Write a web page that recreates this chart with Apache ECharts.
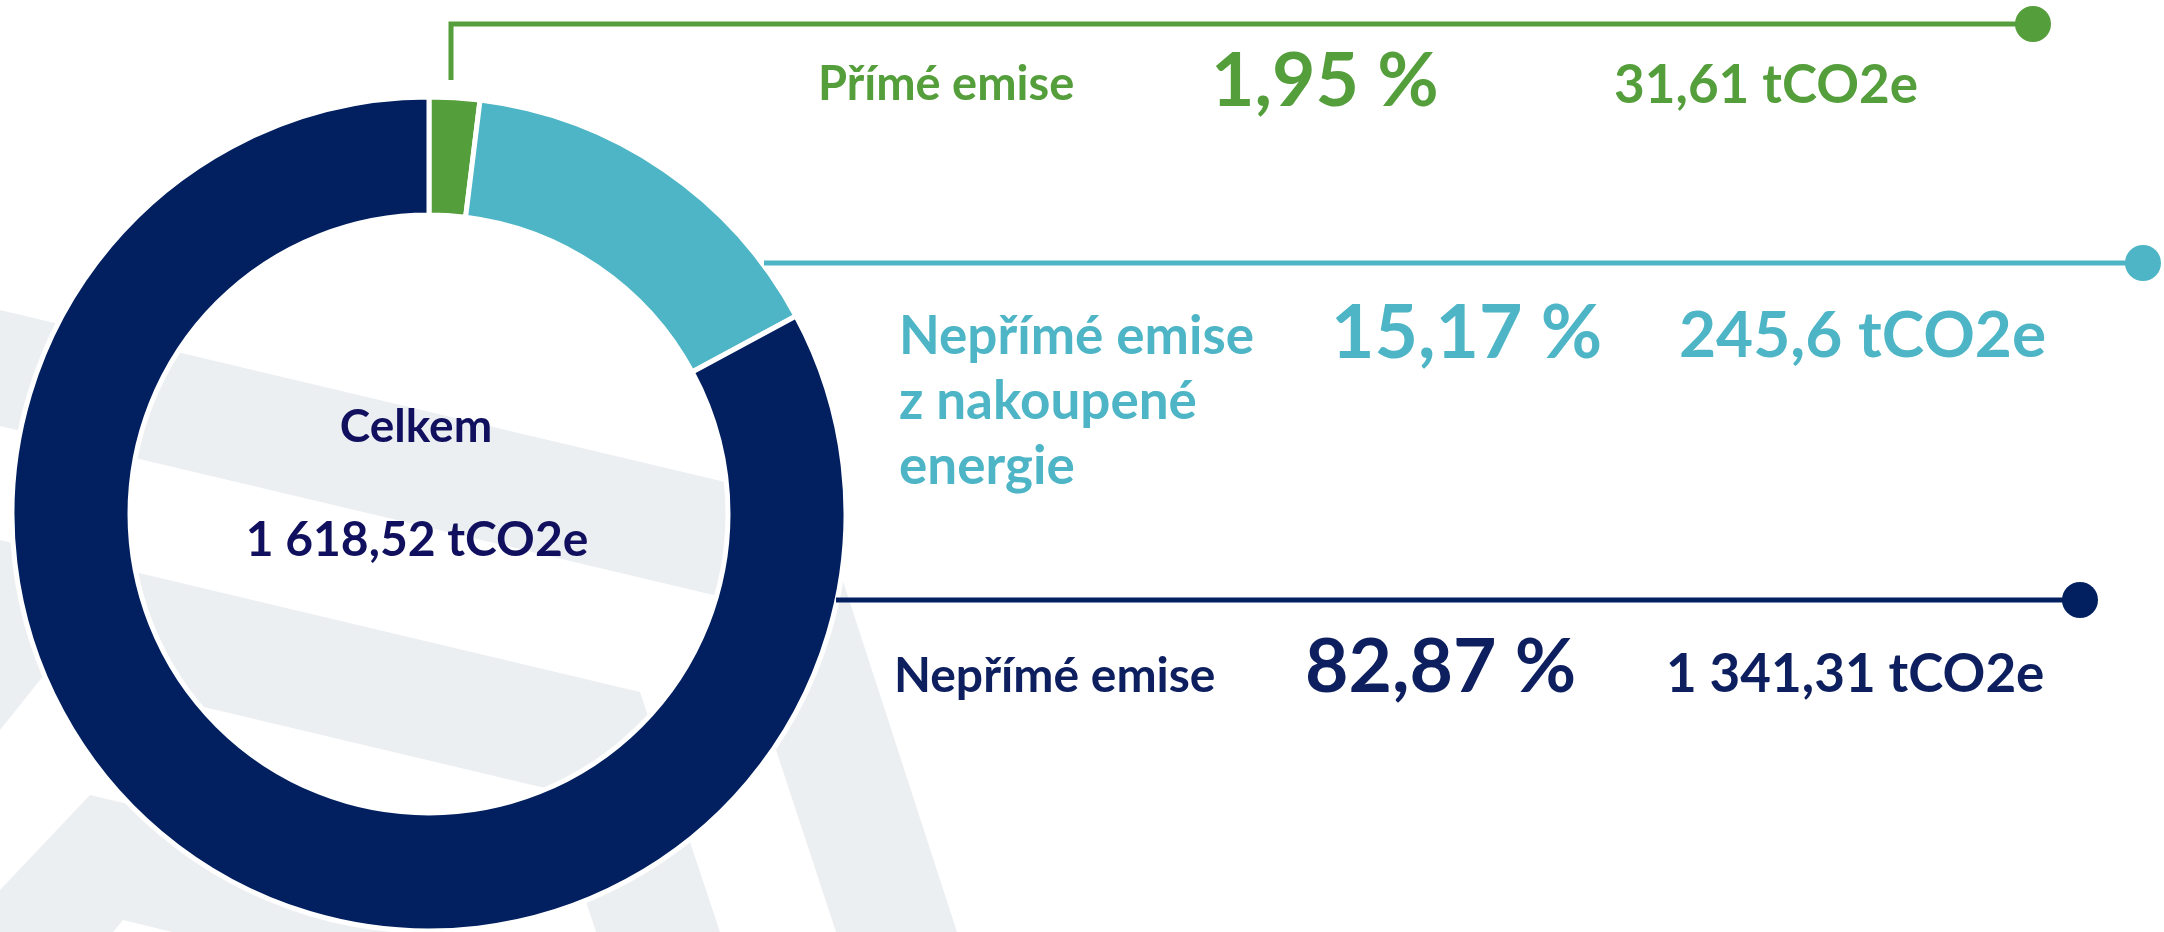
<!DOCTYPE html>
<html>
<head>
<meta charset="utf-8">
<script src="https://cdn.jsdelivr.net/npm/echarts@6/dist/echarts.min.js"></script>
<style>
  html, body { margin: 0; padding: 0; background: #fff; }
  #chart { width: 2164px; height: 932px; }
</style>
</head>
<body>
<div id="chart"></div>
<script>
// data
const categories = ['Přímé emise', 'Nepřímé emise\nz nakoupené\nenergie', 'Nepřímé emise']
const values = [31.61, 245.6, 1341.31]
const colors = ['#549e3b', '#4db5c5', '#022060']
const totalTitle = 'Celkem'
const unit = 'tCO2e'

// cs format: 1341.31 -> "1 341,31"
function fmt(v) {
  const s = String(Math.round(v * 100) / 100).split('.')
  const int = s[0].replace(/\B(?=(\d{3})+(?!\d))/g, ' ')
  return s[1] ? int + ',' + s[1] : int
}

const total = values.reduce((a, b) => a + b, 0)
const pct = values.map(v => (v / total * 100).toFixed(2).replace('.', ','))

const chart = echarts.init(document.getElementById('chart'), null, { renderer: 'canvas' })

const font = 'Lato'
const txt = (text, x, y, size, color, align, vAlign, lineHeight) => ({
  type: 'text',
  z: 20,
  silent: true,
  style: {
    text: text,
    x: x,
    y: y,
    fill: color,
    fontFamily: font,
    fontWeight: 'bold',
    fontSize: size,
    lineHeight: lineHeight || size,
    align: align || 'left',
    verticalAlign: vAlign || 'middle'
  }
})

// rows on the right: [labelX, labelY, labelSize, pctX, pctY, valX, valY, valSize]
const rows = [
  [818, 85, 47, 1211, 82, 1614, 86, 53],
  [899, 304, 53, 1331, 334, 1679, 336, 64],
  [894, 677, 48, 1305, 668, 1666, 675, 53]
]
const textColors = ['#549e3b', '#4db5c5', '#0d1f5f']

const labels = []
rows.forEach((r, i) => {
  if (i === 1) {
    labels.push(txt(categories[i], r[0], r[1], r[2], textColors[i], 'left', 'top', 65))
  } else {
    labels.push(txt(categories[i], r[0], r[1], r[2], textColors[i]))
  }
  labels.push(txt(pct[i] + ' %', r[3], r[4], 75, textColors[i]))
  labels.push(txt(fmt(values[i]) + ' ' + unit, r[5], r[6], r[7], textColors[i]))
})

// leader lines + end dots
const lines = [
  { pts: [[451, 80], [451, 24], [2033, 24]], dot: [2033, 24], c: colors[0] },
  { pts: [[764, 263], [2143, 263]], dot: [2143, 263], c: colors[1] },
  { pts: [[836, 600], [2080, 600]], dot: [2080, 600], c: colors[2] }
]
const leaders = []
lines.forEach(l => {
  leaders.push({ type: 'polyline', z: 15, silent: true, shape: { points: l.pts }, style: { stroke: l.c, lineWidth: 5, fill: null } })
  leaders.push({ type: 'circle', z: 15, silent: true, shape: { cx: l.dot[0], cy: l.dot[1], r: 18 }, style: { fill: l.c } })
})

// background watermark stripes
const stripeColor = '#eceff2'
const stripes = [
  [[0, 310], [818, 504], [957, 932], [836, 932], [726, 598], [0, 426]],
  [[0, 540], [640, 692], [720, 932], [596, 932], [549, 789], [48, 670], [0, 730]],
  [[0, 890], [90, 795], [450, 880], [450, 1000], [123, 920], [113, 932], [0, 932]]
].map(p => ({ type: 'polygon', z: -1, silent: true, shape: { points: p }, style: { fill: stripeColor } }))

const option = {
  backgroundColor: '#fff',
  animation: false,
  graphic: {
    elements: [
      ...stripes,
      ...leaders,
      ...labels,
      txt(totalTitle, 416, 427, 46, '#10105e', 'center'),
      txt(fmt(total) + ' ' + unit, 417, 541, 48, '#10105e', 'center')
    ]
  },
  series: [
    {
      type: 'pie',
      center: [429, 514],
      radius: [299, 417],
      startAngle: 90,
      clockwise: true,
      silent: true,
      z: 5,
      label: { show: false },
      labelLine: { show: false },
      itemStyle: {
        borderColor: '#fff',
        borderWidth: 5
      },
      data: values.map((v, i) => ({
        name: categories[i],
        value: v,
        itemStyle: { color: colors[i] }
      }))
    }
  ]
}

chart.setOption(option)
</script>
</body>
</html>
